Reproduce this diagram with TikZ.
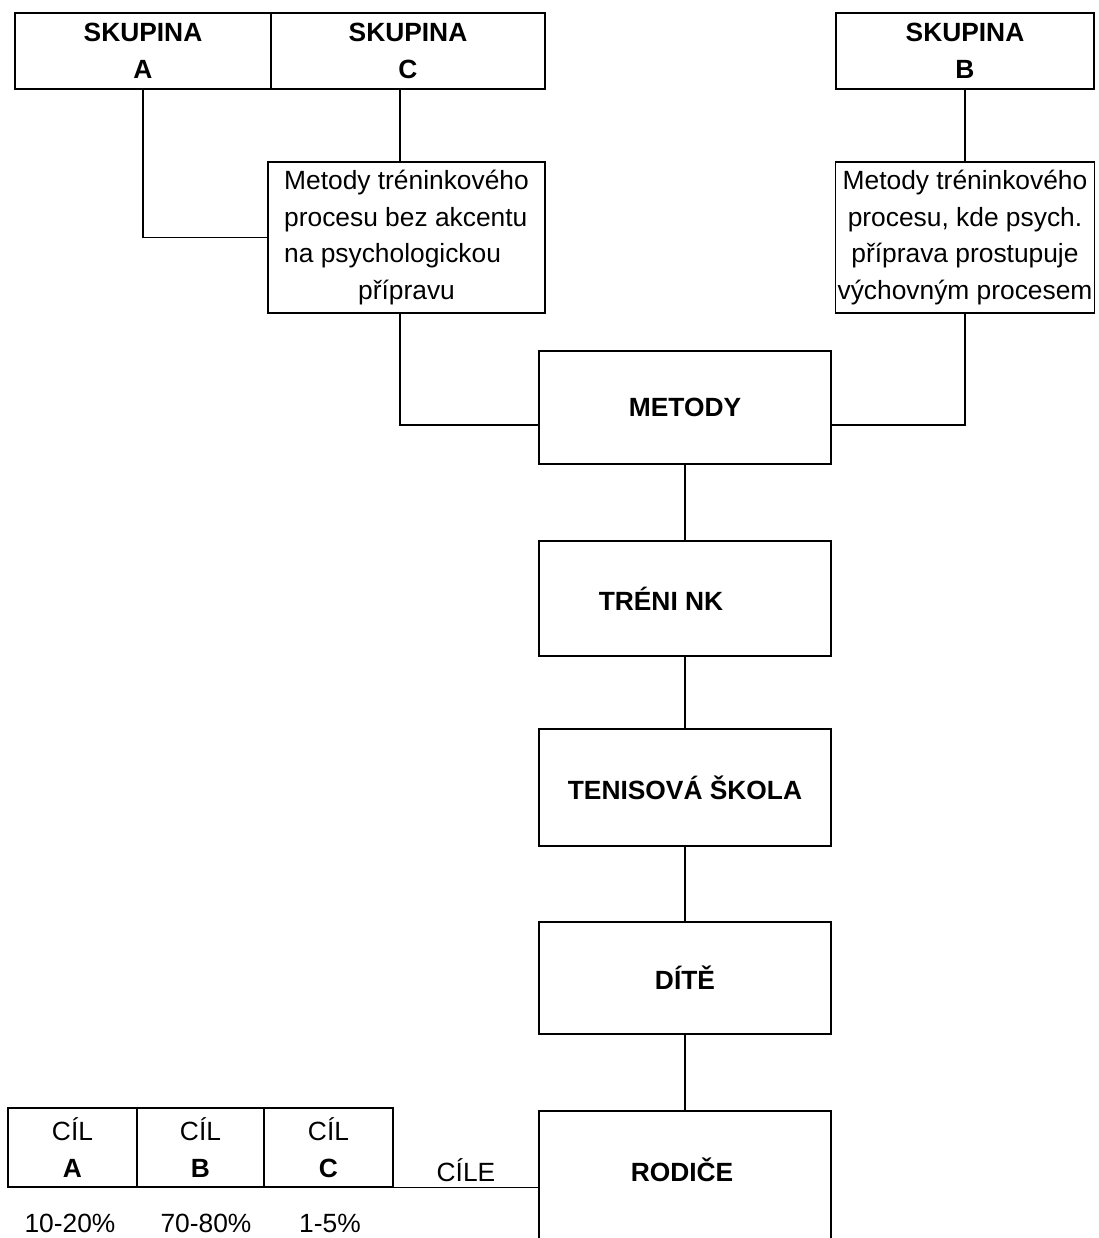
\documentclass[tikz,border=0pt]{standalone}
\usepackage{fontspec}
\setmainfont{Liberation Sans}
\usepackage{tikz}

\begin{document}
\begin{tikzpicture}[x=0.02cm,y=-0.02cm,
  box/.style={draw,line width=0.8pt,align=center,inner sep=1pt,font=\fontsize{15}{21}\selectfont},
  bigbox/.style={box,line width=1.2pt,minimum width=5.84cm,font=\fontsize{15}{21}\selectfont\bfseries},
  cilbox/.style={box,minimum height=1.58cm},
  link/.style={line width=0.8pt}]
\useasboundingbox (0,0) rectangle (1099,1238);
\clip (0,0) rectangle (1099,1238);

% skupiny nahore
\node[box,minimum width=5.12cm,minimum height=1.52cm] (skupA) at (143,51) {\textbf{SKUPINA}\\\textbf{A}};
\node[box,minimum width=5.48cm,minimum height=1.52cm] (skupC) at (408,51) {\textbf{SKUPINA}\\\textbf{C}};
\node[box,minimum width=5.16cm,minimum height=1.52cm] (skupB) at (965,51) {\textbf{SKUPINA}\\\textbf{B}};

\node[box,minimum width=5.54cm,minimum height=3.02cm,align=left,inner sep=3pt] (metL) at (406.5,237.5)
  {Metody tréninkového\\procesu bez akcentu\\na psychologickou\\\hspace*{1.48cm}přípravu};
\node[box,minimum width=5.18cm,minimum height=3.02cm] (metR) at (965,237.5)
  {Metody tréninkového\\procesu, kde psych.\\příprava prostupuje\\výchovným procesem};

% stred
\node[bigbox,minimum height=2.26cm] (metody) at (685,407.5) {METODY};
\node[bigbox,minimum height=2.3cm] (trenink) at (685,598.5) {TRÉNI NK\hspace*{0.96cm}};
\node[bigbox,minimum height=2.34cm] (skola) at (685,787.5) {TENISOVÁ ŠKOLA};
\node[bigbox,minimum height=2.24cm] (dite) at (685,978) {DÍTĚ};
\node[bigbox,minimum height=3.8cm,anchor=north] (rodice) at (685,1110) {};
\node[font=\fontsize{15}{21}\selectfont\bfseries] (rodtxt) at (682,1170) {RODIČE};

% cile
\node[cilbox,minimum width=2.58cm] (cilA) at (72.5,1147.5) {CÍL\\\textbf{A}};
\node[cilbox,minimum width=2.54cm] (cilB) at (200.5,1147.5) {CÍL\\\textbf{B}};
\node[cilbox,minimum width=2.58cm] (cilC) at (328.5,1147.5) {CÍL\\\textbf{C}};
\node[font=\fontsize{15}{21}\selectfont] (cile) at (466,1170) {CÍLE};

\node[font=\fontsize{15}{21}\selectfont] (procA) at (70,1223) {10-20\%};
\node[font=\fontsize{15}{21}\selectfont] (procB) at (206,1223) {70-80\%};
\node[font=\fontsize{15}{21}\selectfont] (procC) at (330,1223) {1-5\%};

% spojnice
\draw[link] (skupA.south) |- (metL.west);
\draw[link] ([xshift=-0.13cm]metL.north) -- ([xshift=-0.13cm]metL.north |- skupC.south);
\draw[link] (skupB.south) -- (metR.north);
\draw[link] ([xshift=-0.13cm]metL.south) |- ([yshift=-0.35cm]metody.west);
\draw[link] (metR.south) |- ([yshift=-0.35cm]metody.east);
\draw[link] (metody.south) -- (trenink.north);
\draw[link] (trenink.south) -- (skola.north);
\draw[link] (skola.south) -- (dite.north);
\draw[link] (dite.south) -- (rodice.north);
\draw[link] (cilC.south east) -- (cilC.south east -| rodice.west);
\end{tikzpicture}
\end{document}
